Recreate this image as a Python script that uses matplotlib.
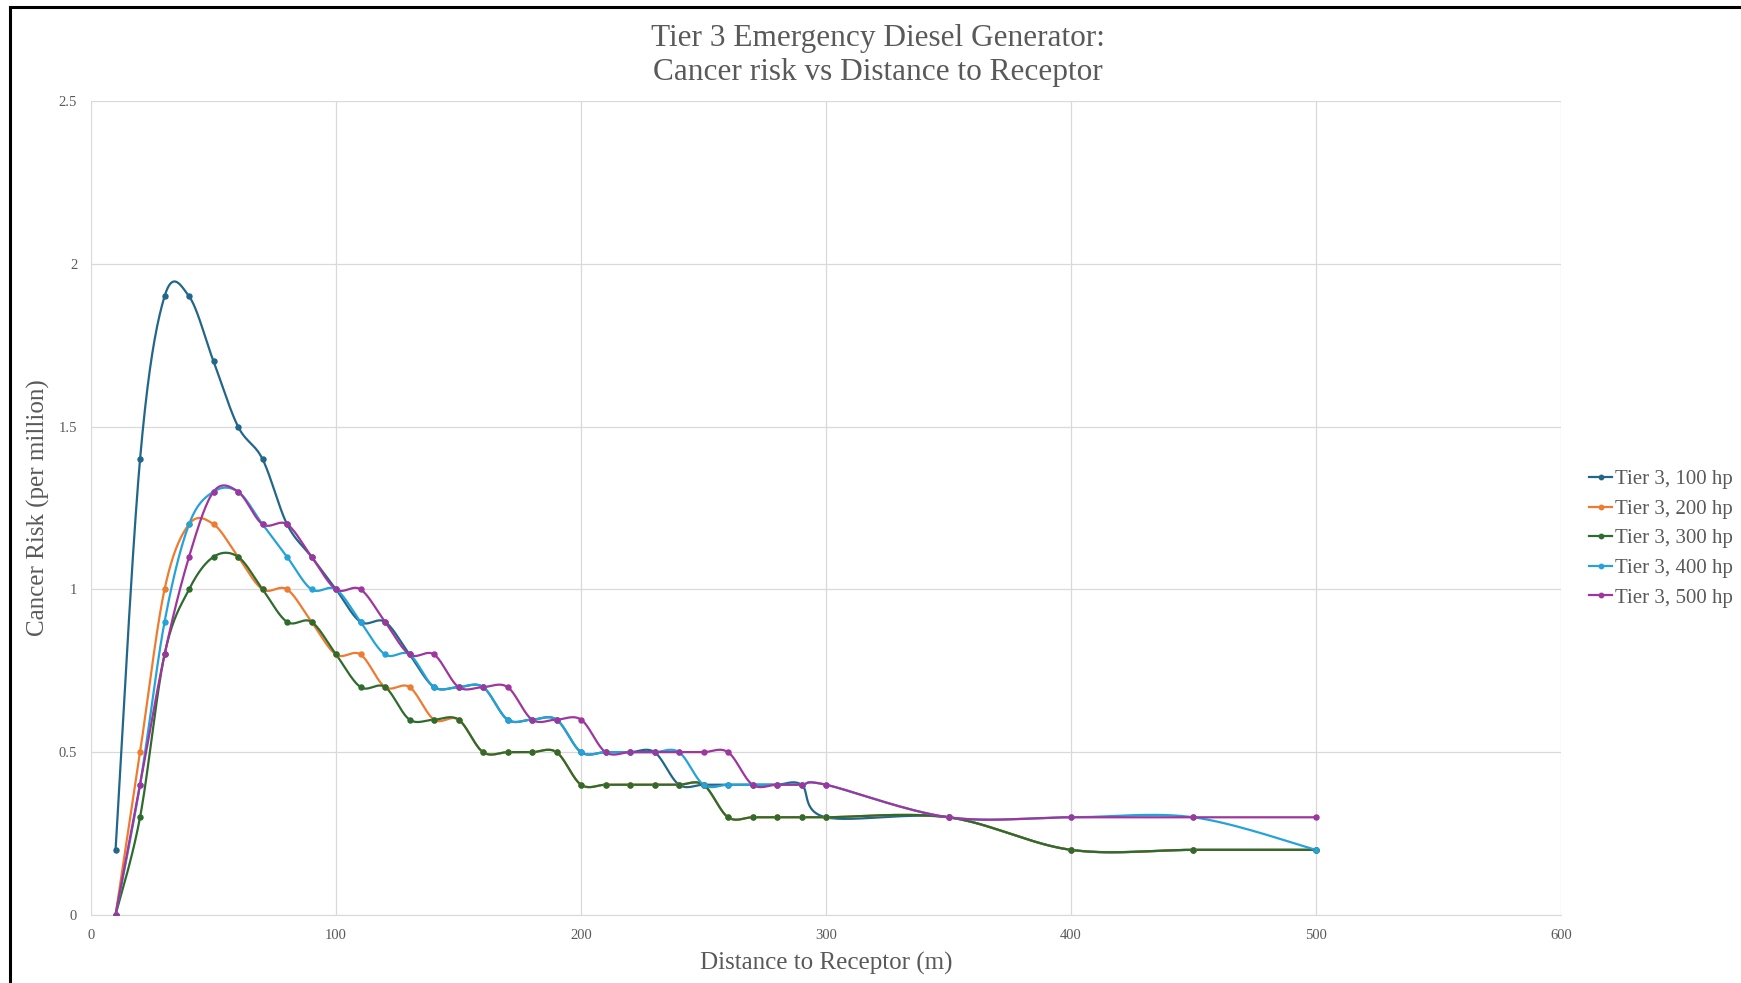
import numpy as np
import matplotlib
matplotlib.use("Agg")
import matplotlib.pyplot as plt
from matplotlib.lines import Line2D

distance = [10, 20, 30, 40, 50, 60, 70, 80, 90, 100, 110, 120, 130, 140, 150,
            160, 170, 180, 190, 200, 210, 220, 230, 240, 250, 260, 270, 280,
            290, 300, 350, 400, 450, 500]

risk_100hp = [0.2, 1.4, 1.9, 1.9, 1.7, 1.5, 1.4, 1.2, 1.1, 1.0, 0.9, 0.9, 0.8, 0.7, 0.7,
              0.7, 0.6, 0.6, 0.6, 0.5, 0.5, 0.5, 0.5, 0.4, 0.4, 0.4, 0.4, 0.4,
              0.4, 0.3, 0.3, 0.2, 0.2, 0.2]
risk_200hp = [0.0, 0.5, 1.0, 1.2, 1.2, 1.1, 1.0, 1.0, 0.9, 0.8, 0.8, 0.7, 0.7, 0.6, 0.6,
              0.5, 0.5, 0.5, 0.5, 0.4, 0.4, 0.4, 0.4, 0.4, 0.4, 0.3, 0.3, 0.3,
              0.3, 0.3, 0.3, 0.2, 0.2, 0.2]
risk_300hp = [0.0, 0.3, 0.8, 1.0, 1.1, 1.1, 1.0, 0.9, 0.9, 0.8, 0.7, 0.7, 0.6, 0.6, 0.6,
              0.5, 0.5, 0.5, 0.5, 0.4, 0.4, 0.4, 0.4, 0.4, 0.4, 0.3, 0.3, 0.3,
              0.3, 0.3, 0.3, 0.2, 0.2, 0.2]
risk_400hp = [0.0, 0.4, 0.9, 1.2, 1.3, 1.3, 1.2, 1.1, 1.0, 1.0, 0.9, 0.8, 0.8, 0.7, 0.7,
              0.7, 0.6, 0.6, 0.6, 0.5, 0.5, 0.5, 0.5, 0.5, 0.4, 0.4, 0.4, 0.4,
              0.4, 0.4, 0.3, 0.3, 0.3, 0.2]
risk_500hp = [0.0, 0.4, 0.8, 1.1, 1.3, 1.3, 1.2, 1.2, 1.1, 1.0, 1.0, 0.9, 0.8, 0.8, 0.7,
              0.7, 0.7, 0.6, 0.6, 0.6, 0.5, 0.5, 0.5, 0.5, 0.5, 0.5, 0.4, 0.4,
              0.4, 0.4, 0.3, 0.3, 0.3, 0.3]

series_labels = ["Tier 3, 100 hp", "Tier 3, 200 hp", "Tier 3, 300 hp",
                 "Tier 3, 400 hp", "Tier 3, 500 hp"]
series_colors = ["#22668A", "#EE7B30", "#2E6B2E", "#25A3D8", "#9E369E"]

x_ticks = [0, 100, 200, 300, 400, 500, 600]
y_ticks = [0, 0.5, 1, 1.5, 2, 2.5]
y_tick_labels = ["0", "0.5", "1", "1.5", "2", "2.5"]


def excel_smooth(xs, ys, n=30):
    """Excel-style smoothed line (Bezier with Catmull-Rom control points)."""
    P = np.column_stack([xs, ys]).astype(float)
    m = len(P)
    out = []
    for i in range(m - 1):
        p0 = P[i - 1] if i > 0 else P[i]
        p1 = P[i]
        p2 = P[i + 1]
        p3 = P[i + 2] if i + 2 < m else P[i + 1]
        c1 = p1 + (p2 - p0) / 6.0
        c2 = p2 - (p3 - p1) / 6.0
        t = np.linspace(0, 1, n, endpoint=(i == m - 2))[:, None]
        seg = ((1 - t) ** 3) * p1 + 3 * ((1 - t) ** 2) * t * c1 + 3 * (1 - t) * t ** 2 * c2 + t ** 3 * p2
        out.append(seg)
    pts = np.vstack(out)
    return pts[:, 0], pts[:, 1]


plt.rcParams['font.family'] = ['Liberation Serif', 'DejaVu Serif']

fig = plt.figure(figsize=(17.41, 9.83), dpi=100)
ax = fig.add_axes([0.0523, 0.0692, 0.8443, 0.8281])

all_series = [risk_100hp, risk_200hp, risk_300hp, risk_400hp, risk_500hp]
for ys, lab, col in zip(all_series, series_labels, series_colors):
    sx, sy = excel_smooth(distance, ys)
    ax.plot(sx, sy, color=col, lw=1.6, zorder=3, solid_capstyle='round')
    ax.plot(distance, ys, linestyle='none', marker='o', markersize=3.6,
            color=col, zorder=4)

ax.set_xlim(0, 600)
ax.set_ylim(0, 2.5)
ax.set_xticks(x_ticks)
ax.set_yticks(y_ticks)
ax.set_yticklabels(y_tick_labels)
ax.grid(True, color="#D9D9D9", lw=0.9)
ax.set_axisbelow(True)
for s in ["top", "right", "left"]:
    ax.spines[s].set_visible(False)
ax.spines["bottom"].set_color("#D9D9D9")
ax.tick_params(axis='both', length=0, labelsize=10.5, colors="#595959")
ax.tick_params(axis='x', pad=10)
ax.tick_params(axis='y', pad=10)

ax.set_xlabel("Distance to Receptor (m)", fontsize=18, color="#595959", labelpad=7)
ax.set_ylabel("Cancer Risk (per million)", fontsize=18, color="#595959", labelpad=6)

fig.text(0.504, 0.961, "Tier 3 Emergency Diesel Generator:", ha='center', va='center',
         fontsize=22.5, color="#595959")
fig.text(0.504, 0.926, "Cancer risk vs Distance to Receptor", ha='center', va='center',
         fontsize=22.5, color="#595959")

handles = [Line2D([0], [0], color=c, lw=1.6, marker='o', markersize=3.2) for c in series_colors]
leg = fig.legend(handles, series_labels, loc='center left', bbox_to_anchor=(0.902, 0.452),
                 frameon=False, fontsize=15, handlelength=1.1, handletextpad=0.15,
                 labelspacing=0.48, labelcolor="#595959")

# screenshot frame
fig.add_artist(Line2D([0.006, 0.006], [0, 0.993], transform=fig.transFigure, color='black', lw=2.2))
fig.add_artist(Line2D([0.006, 1.0], [0.993, 0.993], transform=fig.transFigure, color='black', lw=2.2))

fig.savefig("out.png", dpi=100)
